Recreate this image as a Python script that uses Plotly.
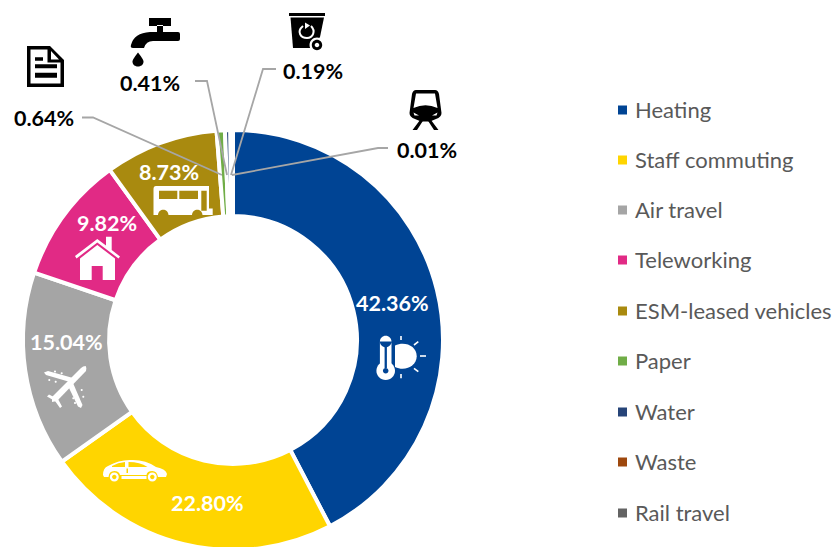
import plotly.graph_objects as go

# ---- data ----
categories = ["Heating", "Staff commuting", "Air travel", "Teleworking", "ESM-leased vehicles",
              "Paper", "Water", "Waste", "Rail travel"]
shares = [42.36, 22.80, 15.04, 9.82, 8.73, 0.64, 0.41, 0.19, 0.01]
colors = ["#004494", "#FFD500", "#A5A5A5", "#E12A85", "#A98A0F",
          "#70AD47", "#264478", "#9E480E", "#636363"]

W, H = 835, 560   # canvas runs past the 547 px window so the ring can touch its lower edge
FONT = "Lato"
CX, CY, R = 233, 340, 210

# ---- layout positions (pixels) ----
label_xy = [(392, 303), (207, 503), (66, 342), (107, 223), (169, 172),
            (44, 118), (150, 83), (313, 71), (427, 150)]
label_col = ["white"] * 5 + ["black"] * 4
legend_y = [109, 159, 209, 259, 310, 360, 411, 461, 512]
marker_y = [110, 160, 210, 260, 311, 361, 412, 462, 513]
leaders = [
    [(82, 117.5), (93, 117.5), (222, 175)],
    [(195, 81), (207, 81), (227, 175)],
    [(276, 69), (263, 69), (231, 175)],
    [(388, 148), (378, 148), (232, 175)],
]


def circ(cx, cy, r):
    k = 0.5523 * r
    return (f"M{cx-r} {cy} C{cx-r} {cy-k} {cx-k} {cy-r} {cx} {cy-r} "
            f"C{cx+k} {cy-r} {cx+r} {cy-k} {cx+r} {cy} "
            f"C{cx+r} {cy+k} {cx+k} {cy+r} {cx} {cy+r} "
            f"C{cx-k} {cy+r} {cx-r} {cy+k} {cx-r} {cy} Z ")


def rect(x0, y0, x1, y1):
    return f"M{x0} {y0} H{x1} V{y1} H{x0} Z "


shapes = []


def fill(path, color):
    shapes.append(dict(type="path", path=path, xref="x", yref="y", fillcolor=color,
                       fillrule="evenodd", line=dict(width=0), layer="above"))


def stroke(path, color, width):
    shapes.append(dict(type="path", path=path, xref="x", yref="y", fillcolor="rgba(0,0,0,0)",
                       line=dict(color=color, width=width), layer="above"))


# leader lines
for pts in leaders:
    d = "M" + " L".join(f"{x} {y}" for x, y in pts)
    stroke(d, "#A6A6A6", 1.8)

# document
fill("M27 46 H50 L64 60 V87 H27 Z M30.5 49.5 H47.5 V62.5 H60.5 V83.5 H30.5 Z M51 51 L59 59.5 H51 Z "
     + rect(35, 57.3, 43, 60.7) + rect(35, 64.3, 57, 68.3) + rect(35, 72.7, 57, 77.7), "black")

# tap
fill(rect(149, 18, 171, 26) + rect(157, 25, 163, 33), "black")
fill("M178 32 Q180 32 180 34 V39 Q180 41 178 41 H153 Q146 41 144 48 H133 Q130 48 131 45 "
     "Q134 33 150 32 Z", "black")
fill("M138 52.5 Q144 60 143.5 62 C143 68 133 68 132.5 62 Q132 60 138 52.5 Z", "black")

# bin
fill(rect(289, 13, 325, 16), "black")
fill("M290.5 17.5 H324 L320 37 L312 48 H293 Z", "black")
fill(circ(317, 45, 7.5), "white")
fill(circ(317, 45, 5.2) + circ(317, 45, 2.3), "black")
stroke("M303 26 C296 32 301 38 307 38 C313 38 316 31 311 26", "white", 2)
fill("M305 22.5 L310 25.5 L305 29 Z", "white")

# train
fill("M416 90 H435 Q438 90 439 94 L441.5 113 Q441.5 117 436 119 L430 121.5 H421 L415 119 "
     "Q409.5 117 409.5 113 L412 94 Q413 90 416 90 Z "
     "M416 93.5 H435 L437.5 108 Q425.5 102.5 413.5 108 Z "
     "M413.5 112.5 L419 115.5 L414.5 115.5 Z M437.5 112.5 L432 115.5 L436.5 115.5 Z", "black")
fill("M420 120 L423.5 120 L417 130 H412.5 Z M431 120 L427.5 120 L434 130 H438.5 Z", "black")

# bus
fill("M156 186 H209 V208.5 H212.7 V215 H202.5 C202 208 192.5 208 192 215 H168.5 "
     "C168 208 158.5 208 158 215 H153.5 V189 Q153.5 186 156 186 Z "
     + rect(159, 190.7, 177.3, 199) + rect(179.3, 190.7, 198, 199) + rect(201.3, 190.7, 206.7, 210.7),
     "white")

# house
fill("M75 256 L97.3 239 L106 245.5 V236.7 H111.7 V250 L120 256.5 L118.5 258.5 L97.3 242.5 L76.5 258.5 Z",
     "white")
fill("M97.3 245 L115 258.5 V280 H102.7 V266 H91.7 V280 H80 V258.5 Z", "white")

# car
fill("M103 475 Q103 468 108 466 Q120 459 133 460 Q146 460 156 467 Q166 469 167 474 L166 477 H158 "
     "Q157 471 152.3 471 Q147 471 146.5 475 H120 Q119 471 114.3 471 Q109 471 108.5 477 H104 Z "
     "M112 466 Q118 462.5 125 462 V467 H112 Z M128.5 462 Q140 462 147.5 467 H128.5 Z "
     + rect(126.5, 468.5, 128, 473), "white")
fill(rect(121.5, 476, 146.5, 479), "white")
fill(circ(114.3, 477, 4.5) + circ(114.3, 477, 2.2), "white")
fill(circ(152.3, 477, 4.5) + circ(152.3, 477, 2.2), "white")

# plane
fill("M85.7 366 Q87 368 86 371 L57 401 L52 402 L52 397 L81 368 Q83 366 85.7 366 Z", "white")
fill("M70 382 L46 375 L44 372.5 L48 371 L73 378 Z", "white")
fill("M73 383 L82.5 405 L81 408 L78 406.5 L68.5 387 Z", "white")
fill("M47 396.5 L49 394.5 L56 398 L54 400.5 Z M55 401 L58 399 L62 406.5 L60 408 Z", "white")
for cx, cy in [(55, 371.5), (61.7, 373.3), (49.3, 380), (55.7, 381.7),
               (81.7, 390), (83.3, 396.7), (73.3, 398.3), (75, 403)]:
    fill(circ(cx, cy, 1), "white")

# thermometer and sun
fill(circ(385.7, 341.5, 5.8) + rect(379.9, 341.5, 391.5, 365), "white")
fill(circ(385.7, 370.7, 9.3), "white")
fill(rect(384.6, 347, 386.9, 368) + circ(385.7, 370.7, 2.8), "#004494")
fill("M395 345.5 C405 341 416.7 346 416.7 356.3 C416.7 366 405 372 395 367 Z", "white")
for x0, y0, x1, y1 in [(401, 336, 401, 340), (414, 345, 418.3, 341.7), (420, 356, 426, 356),
                       (414, 368.3, 418.3, 371.7), (401, 374, 401, 378.3)]:
    stroke(f"M{x0} {y0} L{x1} {y1}", "white", 1.6)

# ---- figure ----
fig = go.Figure()

fig.add_trace(go.Scatter(
    x=[622.5] * len(categories), y=marker_y, mode="markers",
    marker=dict(symbol="square", size=9, color=colors, line=dict(width=0)),
    hoverinfo="skip", showlegend=False,
))

fig.add_trace(go.Pie(
    labels=categories, values=shares, sort=False, direction="clockwise", rotation=0,
    hole=0.59, marker=dict(colors=colors, line=dict(color="white", width=4)),
    textinfo="none", showlegend=False,
    domain=dict(x=[(CX - R) / W, (CX + R) / W], y=[1 - (CY + R) / H, 1 - (CY - R) / H]),
))

annotations = []
for v, (x, y), c in zip(shares, label_xy, label_col):
    annotations.append(dict(x=x, y=y, xref="x", yref="y", text=f"<b>{v:.2f}%</b>", showarrow=False,
                            font=dict(family=FONT, size=21.5, color=c), xanchor="center", yanchor="middle"))
for name, y in zip(categories, legend_y):
    annotations.append(dict(x=633, y=y, xref="x", yref="y", text=name, showarrow=False,
                            font=dict(family=FONT, size=22, color="#595959"), xanchor="left", yanchor="middle"))

fig.update_layout(
    width=W, height=H, autosize=False,
    margin=dict(l=0, r=0, t=0, b=0),
    paper_bgcolor="white", plot_bgcolor="white",
    xaxis=dict(range=[0, W], visible=False, fixedrange=True),
    yaxis=dict(range=[H, 0], visible=False, fixedrange=True),
    shapes=shapes, annotations=annotations,
)

fig.write_html("out.html", config=dict(displayModeBar=False),
               post_script="document.body.style.margin='0';document.documentElement.style.overflow='hidden';document.body.style.overflow='hidden';")
